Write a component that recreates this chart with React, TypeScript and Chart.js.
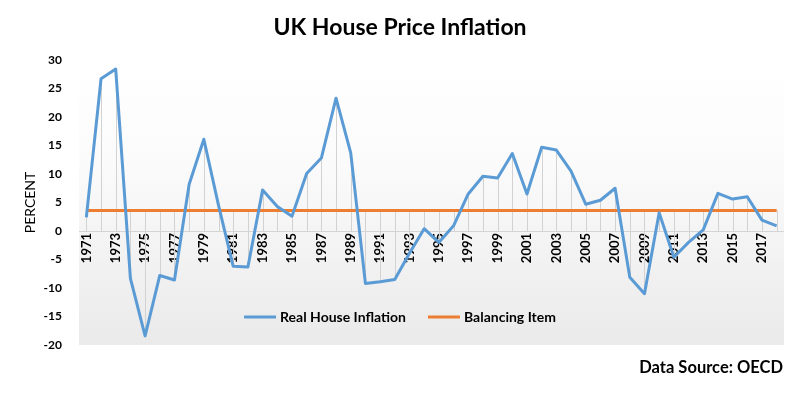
import React, { useEffect, useRef } from "react";
import { Chart, registerables } from "chart.js";

Chart.register(...registerables);

const years: string[] = [
  "1971", "1972", "1973", "1974", "1975", "1976", "1977", "1978", "1979", "1980",
  "1981", "1982", "1983", "1984", "1985", "1986", "1987", "1988", "1989", "1990",
  "1991", "1992", "1993", "1994", "1995", "1996", "1997", "1998", "1999", "2000",
  "2001", "2002", "2003", "2004", "2005", "2006", "2007", "2008", "2009", "2010",
  "2011", "2012", "2013", "2014", "2015", "2016", "2017", "2018",
];

const realHouseInflation: number[] = [
  2.4, 26.7, 28.4, -8.3, -18.4, -7.8, -8.6, 8.2, 16.1, 4.5,
  -6.2, -6.3, 7.2, 4.3, 2.6, 10.1, 12.8, 23.3, 13.7, -9.2,
  -8.9, -8.5, -3.9, 0.4, -2.0, 0.9, 6.5, 9.6, 9.3, 13.6,
  6.5, 14.7, 14.2, 10.5, 4.7, 5.4, 7.5, -8.1, -11.0, 3.2,
  -4.6, -2.0, 0.2, 6.6, 5.6, 6.0, 1.9, 0.9,
];

const balancingItem: number[] = [
  3.6, 3.6, 3.6, 3.6, 3.6, 3.6, 3.6, 3.6, 3.6, 3.6,
  3.6, 3.6, 3.6, 3.6, 3.6, 3.6, 3.6, 3.6, 3.6, 3.6,
  3.6, 3.6, 3.6, 3.6, 3.6, 3.6, 3.6, 3.6, 3.6, 3.6,
  3.6, 3.6, 3.6, 3.6, 3.6, 3.6, 3.6, 3.6, 3.6, 3.6,
  3.6, 3.6, 3.6, 3.6, 3.6, 3.6, 3.6, 3.6,
];

const yTicksMin = -20;
const yTicksMax = 30;
const yTicksStep = 5;

const titleText = "UK House Price Inflation";
const yAxisTitle = "PERCENT";
const sourceText = "Data Source: OECD";
const legendLabels = ["Real House Inflation", "Balancing Item"];

const BLUE = "#5B9BD5";
const ORANGE = "#ED7D31";
const FONT = "Lato, 'Open Sans', sans-serif";

const decorPlugin = {
  id: "decor",
  beforeDraw(chart: any) {
    const { ctx, chartArea } = chart;
    const g = ctx.createLinearGradient(0, chartArea.top, 0, chartArea.bottom);
    g.addColorStop(0, "#ffffff");
    g.addColorStop(0.35, "#fbfbfb");
    g.addColorStop(1, "#eaeaea");
    ctx.save();
    ctx.fillStyle = g;
    ctx.fillRect(chartArea.left, chartArea.top, chartArea.right - chartArea.left, chartArea.bottom - chartArea.top);
    ctx.restore();
  },
  beforeDatasetsDraw(chart: any) {
    const { ctx, chartArea } = chart;
    const yScale = chart.scales.y;
    const zero = yScale.getPixelForValue(0);
    ctx.save();
    ctx.strokeStyle = "#d2d2d2";
    ctx.lineWidth = 1;
    chart.data.datasets.forEach((ds: any, di: number) => {
      const meta = chart.getDatasetMeta(di);
      meta.data.forEach((pt: any) => {
        const x = Math.round(pt.x) + 0.5;
        ctx.beginPath();
        ctx.moveTo(x, zero);
        ctx.lineTo(x, pt.y);
        ctx.stroke();
      });
    });
    ctx.strokeStyle = "#d4d4d4";
    ctx.beginPath();
    ctx.moveTo(chartArea.left, Math.round(zero) + 0.5);
    ctx.lineTo(chartArea.right, Math.round(zero) + 0.5);
    ctx.stroke();
    ctx.restore();
  },
  afterDraw(chart: any) {
    const { ctx, width } = chart;
    const yScale = chart.scales.y;
    ctx.save();
    // Title
    ctx.fillStyle = "#000";
    ctx.font = `bold 23px ${FONT}`;
    ctx.textAlign = "center";
    ctx.textBaseline = "middle";
    ctx.fillText(titleText, width / 2, 28);

    // Data source
    ctx.font = `bold 16.5px ${FONT}`;
    ctx.textAlign = "right";
    ctx.fillText(sourceText, 783, 368);

    // Legend
    ctx.font = `bold 14px ${FONT}`;
    const segW = 32;
    const gapAfterSeg = 4;
    const gapBetween = 22;
    const w0 = ctx.measureText(legendLabels[0]).width;
    const w1 = ctx.measureText(legendLabels[1]).width;
    const total = segW + gapAfterSeg + w0 + gapBetween + segW + gapAfterSeg + w1;
    let x = width / 2 - total / 2;
    const ly = Math.round(yScale.getPixelForValue(-15));
    const colors = [BLUE, ORANGE];
    const widths = [w0, w1];
    ctx.textAlign = "left";
    ctx.textBaseline = "middle";
    for (let i = 0; i < 2; i++) {
      ctx.strokeStyle = colors[i];
      ctx.lineWidth = 3;
      ctx.beginPath();
      ctx.moveTo(x, ly);
      ctx.lineTo(x + segW, ly);
      ctx.stroke();
      x += segW + gapAfterSeg;
      ctx.fillStyle = "#000";
      ctx.fillText(legendLabels[i], x, ly);
      x += widths[i] + gapBetween;
    }
    ctx.restore();
  },
};

export default function App() {
  const canvasRef = useRef<HTMLCanvasElement | null>(null);

  useEffect(() => {
    if (!canvasRef.current) return;
    const chart = new Chart(canvasRef.current, {
      type: "line",
      data: {
        labels: years,
        datasets: [
          {
            label: legendLabels[0],
            data: realHouseInflation,
            borderColor: BLUE,
            backgroundColor: BLUE,
            borderWidth: 3,
            pointRadius: 0,
            tension: 0,
            borderJoinStyle: "round",
          },
          {
            label: legendLabels[1],
            data: balancingItem,
            borderColor: ORANGE,
            backgroundColor: ORANGE,
            borderWidth: 3,
            pointRadius: 0,
            tension: 0,
          },
        ],
      },
      options: {
        animation: false,
        responsive: false,
        maintainAspectRatio: false,
        layout: { padding: { left: 0, top: 60, right: 16, bottom: 54 } },
        plugins: {
          legend: { display: false },
          title: { display: false },
          tooltip: { enabled: false },
        },
        scales: {
          x: {
            type: "category",
            offset: true,
            position: { y: 0 } as any,
            grid: { display: false, drawTicks: false, tickLength: 0 },
            border: { display: false },
            ticks: {
              autoSkip: false,
              minRotation: 90,
              maxRotation: 90,
              padding: 2,
              color: "#000",
              font: { family: FONT, size: 13, weight: "bold" },
              callback: (_v: any, idx: number) => (idx % 2 === 0 ? years[idx] : ""),
            },
          },
          y: {
            min: yTicksMin,
            max: yTicksMax,
            grid: { display: false, drawTicks: false },
            border: { display: false },
            afterFit: (scale: any) => {
              scale.width = 79;
            },
            ticks: {
              stepSize: yTicksStep,
              padding: 17,
              color: "#000",
              font: { family: FONT, size: 12, weight: "bold" },
            },
            title: {
              display: true,
              text: yAxisTitle,
              color: "#000",
              font: { family: FONT, size: 14, weight: "normal" },
              padding: { top: 22, bottom: 0 },
            },
          },
        },
      },
      plugins: [decorPlugin],
    });
    return () => chart.destroy();
  }, []);

  return (
    <div style={{ position: "fixed", left: 0, top: 0, width: 800, height: 399, background: "#fff" }}>
      <canvas ref={canvasRef} width={800} height={399} style={{ width: 800, height: 399, display: "block" }} />
    </div>
  );
}
